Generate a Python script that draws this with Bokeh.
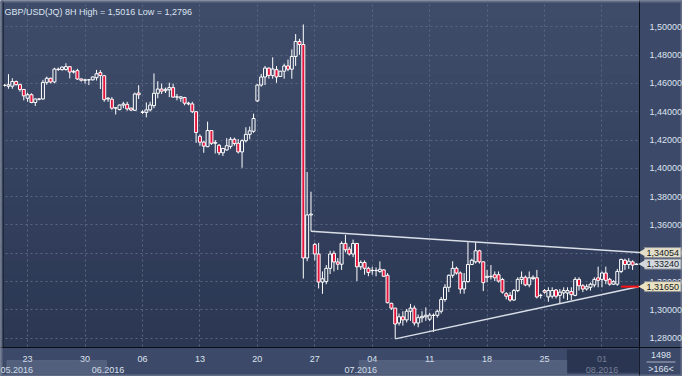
import numpy as np
from bokeh.plotting import figure
from bokeh.models import (Range1d, FixedTicker, CustomJSTickFormatter, LinearAxis,
                          Label, BoxAnnotation)
from bokeh.embed import file_html
from bokeh.resources import INLINE

# ---------------- data (GBP/USD 8H, 166 bars) ----------------
opens = [1.4585, 1.4580, 1.4580, 1.4613, 1.4591, 1.4557, 1.4495, 1.4520, 1.4465, 1.4488,
         1.4490, 1.4607, 1.4636, 1.4610, 1.4700, 1.4697, 1.4698, 1.4718, 1.4680, 1.4690,
         1.4631, 1.4622, 1.4625, 1.4625, 1.4640, 1.4676, 1.4654, 1.4490, 1.4488, 1.4425,
         1.4415, 1.4447, 1.4452, 1.4425, 1.4410, 1.4532, 1.4398, 1.4395, 1.4413, 1.4443,
         1.4530, 1.4560, 1.4548, 1.4555, 1.4570, 1.4503, 1.4495, 1.4500, 1.4460, 1.4455,
         1.4400, 1.4226, 1.4185, 1.4153, 1.4267, 1.4177, 1.4163, 1.4110, 1.4130, 1.4155,
         1.4205, 1.4177, 1.4116, 1.4195, 1.4240, 1.4262, 1.4476, 1.4588, 1.4645, 1.4708,
         1.4656, 1.4697, 1.4649, 1.4686, 1.4723, 1.4700, 1.4790, 1.4896, 1.4874, 1.3367,
         1.3671, 1.3463, 1.3395, 1.3197, 1.3200, 1.3294, 1.3400, 1.3339, 1.3323, 1.3470,
         1.3429, 1.3395, 1.3470, 1.3305, 1.3335, 1.3294, 1.3280, 1.3278, 1.3272, 1.3283,
         1.3245, 1.3047, 1.3013, 1.2908, 1.2952, 1.2930, 1.2991, 1.3013, 1.2908, 1.2945,
         1.2952, 1.2935, 1.2962, 1.2962, 1.2991, 1.3074, 1.3160, 1.3245, 1.3294, 1.3261,
         1.3148, 1.3200, 1.3321, 1.3340, 1.3418, 1.3340, 1.3230, 1.3238, 1.3249, 1.3249,
         1.3215, 1.3115, 1.3103, 1.3070, 1.3137, 1.3216, 1.3231, 1.3177, 1.3222, 1.3227,
         1.3103, 1.3137, 1.3092, 1.3097, 1.3141, 1.3103, 1.3120, 1.3120, 1.3130, 1.3103,
         1.3216, 1.3171, 1.3148, 1.3160, 1.3177, 1.3227, 1.3216, 1.3261, 1.3216, 1.3182,
         1.3182, 1.3272, 1.3351, 1.3321, 1.3340, 1.3321]
highs = [1.4595, 1.4665, 1.4636, 1.4620, 1.4598, 1.4560, 1.4535, 1.4530, 1.4492, 1.4495,
         1.4625, 1.4648, 1.4640, 1.4710, 1.4712, 1.4720, 1.4742, 1.4720, 1.4695, 1.4703,
         1.4635, 1.4633, 1.4630, 1.4650, 1.4695, 1.4693, 1.4660, 1.4503, 1.4503, 1.4430,
         1.4450, 1.4470, 1.4470, 1.4430, 1.4535, 1.4587, 1.4410, 1.4465, 1.4470, 1.4670,
         1.4615, 1.4598, 1.4570, 1.4605, 1.4598, 1.4525, 1.4510, 1.4505, 1.4470, 1.4470,
         1.4402, 1.4240, 1.4195, 1.4330, 1.4270, 1.4200, 1.4172, 1.4145, 1.4213, 1.4220,
         1.4217, 1.4207, 1.4205, 1.4290, 1.4295, 1.4386, 1.4595, 1.4667, 1.4723, 1.4712,
         1.4784, 1.4723, 1.4688, 1.4739, 1.4768, 1.4840, 1.4948, 1.4915, 1.5016, 1.3974,
         1.3835, 1.3474, 1.3474, 1.3272, 1.3317, 1.3418, 1.3418, 1.3366, 1.3485, 1.3530,
         1.3447, 1.3497, 1.3472, 1.3350, 1.3350, 1.3305, 1.3305, 1.3300, 1.3343, 1.3287,
         1.3260, 1.3051, 1.3015, 1.2975, 1.2991, 1.3007, 1.3043, 1.3031, 1.2968, 1.2991,
         1.3018, 1.2980, 1.2975, 1.3002, 1.3092, 1.3182, 1.3250, 1.3344, 1.3306, 1.3272,
         1.3261, 1.3479, 1.3362, 1.3479, 1.3425, 1.3342, 1.3283, 1.3317, 1.3272, 1.3272,
         1.3227, 1.3126, 1.3126, 1.3148, 1.3231, 1.3272, 1.3243, 1.3272, 1.3245, 1.3283,
         1.3115, 1.3148, 1.3160, 1.3160, 1.3148, 1.3148, 1.3160, 1.3160, 1.3160, 1.3231,
         1.3231, 1.3182, 1.3182, 1.3193, 1.3231, 1.3306, 1.3272, 1.3306, 1.3227, 1.3210,
         1.3290, 1.3362, 1.3362, 1.3366, 1.3351, 1.3330]
lows = [1.4578, 1.4562, 1.4562, 1.4585, 1.4541, 1.4480, 1.4470, 1.4460, 1.4440, 1.4480,
        1.4485, 1.4590, 1.4600, 1.4600, 1.4688, 1.4690, 1.4690, 1.4635, 1.4670, 1.4625,
        1.4612, 1.4598, 1.4588, 1.4620, 1.4620, 1.4560, 1.4470, 1.4470, 1.4413, 1.4380,
        1.4410, 1.4425, 1.4407, 1.4405, 1.4405, 1.4490, 1.4385, 1.4360, 1.4402, 1.4425,
        1.4495, 1.4525, 1.4532, 1.4503, 1.4500, 1.4480, 1.4470, 1.4445, 1.4445, 1.4390,
        1.4180, 1.4160, 1.4110, 1.4150, 1.4165, 1.4105, 1.4093, 1.4087, 1.4125, 1.4138,
        1.4160, 1.4105, 1.4004, 1.4183, 1.4205, 1.4251, 1.4469, 1.4577, 1.4588, 1.4633,
        1.4633, 1.4604, 1.4645, 1.4633, 1.4686, 1.4633, 1.4723, 1.4802, 1.3222, 1.3344,
        1.3556, 1.3350, 1.3152, 1.3114, 1.3182, 1.3254, 1.3272, 1.3283, 1.3283, 1.3407,
        1.3384, 1.3373, 1.3204, 1.3283, 1.3249, 1.3238, 1.3249, 1.3238, 1.3262, 1.3234,
        1.3047, 1.3000, 1.2796, 1.2890, 1.2890, 1.2912, 1.2923, 1.2890, 1.2878, 1.2912,
        1.2923, 1.2923, 1.2845, 1.2946, 1.2975, 1.3058, 1.3126, 1.3227, 1.3250, 1.3115,
        1.3115, 1.3193, 1.3317, 1.3328, 1.3328, 1.3133, 1.3195, 1.3215, 1.3204, 1.3193,
        1.3115, 1.3075, 1.3058, 1.3065, 1.3126, 1.3182, 1.3168, 1.3160, 1.3210, 1.3081,
        1.3081, 1.3115, 1.3058, 1.3081, 1.3081, 1.3047, 1.3081, 1.3070, 1.3070, 1.3097,
        1.3137, 1.3126, 1.3137, 1.3137, 1.3160, 1.3160, 1.3160, 1.3182, 1.3171, 1.3177,
        1.3171, 1.3260, 1.3283, 1.3290, 1.3283, 1.3317]
closes = [1.4587, 1.4590, 1.4613, 1.4591, 1.4557, 1.4512, 1.4520, 1.4465, 1.4490, 1.4490,
          1.4607, 1.4636, 1.4610, 1.4701, 1.4698, 1.4715, 1.4718, 1.4680, 1.4685, 1.4631,
          1.4622, 1.4625, 1.4625, 1.4645, 1.4668, 1.4656, 1.4485, 1.4495, 1.4425, 1.4428,
          1.4447, 1.4455, 1.4420, 1.4412, 1.4525, 1.4520, 1.4395, 1.4413, 1.4447, 1.4530,
          1.4560, 1.4545, 1.4558, 1.4570, 1.4503, 1.4505, 1.4505, 1.4460, 1.4455, 1.4400,
          1.4253, 1.4185, 1.4157, 1.4267, 1.4177, 1.4183, 1.4110, 1.4140, 1.4160, 1.4205,
          1.4175, 1.4116, 1.4195, 1.4240, 1.4265, 1.4352, 1.4588, 1.4645, 1.4708, 1.4656,
          1.4701, 1.4645, 1.4686, 1.4723, 1.4700, 1.4790, 1.4896, 1.4874, 1.3367, 1.3671,
          1.3677, 1.3395, 1.3197, 1.3220, 1.3294, 1.3395, 1.3339, 1.3323, 1.3470, 1.3425,
          1.3395, 1.3470, 1.3305, 1.3335, 1.3294, 1.3265, 1.3278, 1.3279, 1.3287, 1.3238,
          1.3051, 1.3013, 1.2901, 1.2952, 1.2930, 1.2991, 1.3013, 1.2908, 1.2946, 1.2955,
          1.2963, 1.2964, 1.2962, 1.2991, 1.3074, 1.3160, 1.3245, 1.3294, 1.3261, 1.3148,
          1.3200, 1.3321, 1.3351, 1.3418, 1.3340, 1.3193, 1.3238, 1.3235, 1.3227, 1.3204,
          1.3126, 1.3097, 1.3070, 1.3137, 1.3216, 1.3231, 1.3177, 1.3227, 1.3231, 1.3092,
          1.3103, 1.3126, 1.3137, 1.3137, 1.3097, 1.3126, 1.3137, 1.3137, 1.3108, 1.3216,
          1.3171, 1.3148, 1.3164, 1.3182, 1.3216, 1.3209, 1.3261, 1.3209, 1.3182, 1.3200,
          1.3272, 1.3357, 1.3321, 1.3344, 1.3317, 1.3324]

week_ticks = [6, 21, 36, 51, 66, 81, 96, 111, 126, 141, 156]
week_labels = ["23", "30", "06", "13", "20", "27", "04", "11", "18", "25", "01"]
month_ticks = [2, 27, 93, 156]
month_labels = ["05.2016", "06.2016", "07.2016", "08.2016"]
price_ticks = [1.28, 1.30, 1.32, 1.34, 1.36, 1.38, 1.40, 1.42, 1.44, 1.46, 1.48, 1.50]

# trend lines and level (bar index, price)
upper_trend_x = [80, 165.8]
upper_trend_y = [1.3556, 1.34054]
lower_trend_x = [102, 165.8]
lower_trend_y = [1.2796, 1.3165]
level_x = [161, 165.8]
level_y = [1.3165, 1.3165]
tag_texts = ["1,34054", "1,33240", "1,31650"]
tag_prices = [1.34054, 1.3324, 1.3165]
tag_colors = ["#e2ddc8", "#d3d7de", "#ebe3c2"]

title = "GBP/USD(JQ) 8H  High = 1,5016 Low = 1,2796"
bars_total = "1498"
bars_shown = ">166<"

# ---------------- layout (pixels, y measured from the bottom) ----------------
W_FIG, H_FIG = 682, 376
CH_L, CH_R, CH_B, CH_T = 3, 639, 29, 373      # chart area inside the canvas
X0, X1 = -0.3, 165.8                          # visible bar range in the chart area
Y0, Y1 = 1.2735, 1.5164                       # visible price range in the chart area
ppx = (CH_R - CH_L) / (X1 - X0)
ppy = (CH_T - CH_B) / (Y1 - Y0)
x_range = Range1d(X0 - CH_L / ppx, X1 + (W_FIG - CH_R) / ppx)
y_range = Range1d(Y0 - CH_B / ppy, Y1 + (H_FIG - CH_T) / ppy)

FONT = "Liberation Sans"
TXT = "#dce3ef"
PANEL = "#3c4968"
EDGE = "#0a0e18"

p = figure(width=W_FIG, height=H_FIG, x_range=x_range, y_range=y_range,
           y_axis_location="right", output_backend="svg", toolbar_location=None,
           min_border=0, min_border_left=0, min_border_right=0, min_border_top=0, min_border_bottom=0,
           background_fill_color="#35425f", border_fill_color=PANEL,
           outline_line_color=None)


def sbox(left, right, bottom, top, **kw):
    return BoxAnnotation(left=left, right=right, bottom=bottom, top=top,
                         left_units="screen", right_units="screen",
                         bottom_units="screen", top_units="screen", **kw)


# vertical gradient of the chart area
NB = 24
c_top = np.array([63, 77, 107])
c_bot = np.array([43, 55, 83])
for i in range(NB):
    t = (i + 0.5) / NB
    col = c_bot + (c_top - c_bot) * t
    b = CH_B + (CH_T - CH_B) * i / NB
    tp = CH_B + (CH_T - CH_B) * (i + 1) / NB + 1
    p.add_layout(sbox(0, W_FIG, b, tp, fill_color="#%02x%02x%02x" % tuple(int(v) for v in col),
                      fill_alpha=1, line_alpha=0, level="image"))

# grid
p.xgrid.ticker = FixedTicker(ticks=week_ticks)
p.ygrid.ticker = FixedTicker(ticks=price_ticks)
for g in (p.xgrid[0], p.ygrid[0]):
    g.grid_line_color = "#5a6783"
    g.grid_line_dash = "2 3"
    g.grid_line_width = 1

# axis panels (cover grid outside the chart area)
p.add_layout(sbox(CH_R, W_FIG, 0, H_FIG, fill_color=PANEL, fill_alpha=1, line_alpha=0, level="underlay"))
p.add_layout(sbox(0, W_FIG, 0, CH_B, fill_color=PANEL, fill_alpha=1, line_alpha=0, level="underlay"))
p.add_layout(sbox(0, CH_L, 0, H_FIG, fill_color=PANEL, fill_alpha=1, line_alpha=0, level="underlay"))
p.add_layout(sbox(0, W_FIG, CH_T, H_FIG, fill_color=PANEL, fill_alpha=1, line_alpha=0, level="underlay"))

# axes (drawn at the edges of the chart area)
xa = p.xaxis[0]
xa.ticker = FixedTicker(ticks=week_ticks)
xa.major_label_overrides = dict(zip(week_ticks, week_labels))
xa.fixed_location = Y0
ya = p.yaxis[0]
ya.ticker = FixedTicker(ticks=price_ticks)
ya.formatter = CustomJSTickFormatter(code="return tick.toFixed(5).replace('.', ',');")
ya.fixed_location = X1
for ax in (xa, ya):
    ax.major_tick_line_color = None
    ax.minor_tick_line_color = None
    ax.axis_line_color = EDGE
    ax.major_label_text_color = TXT
    ax.major_label_text_font = FONT
    ax.major_label_text_font_size = "9px"
xa.major_label_standoff = 2
ya.major_label_standoff = 4

month_axis = LinearAxis(ticker=FixedTicker(ticks=month_ticks),
                        major_label_overrides=dict(zip(month_ticks, month_labels)),
                        fixed_location=Y0)
month_axis.axis_line_color = None
month_axis.major_tick_line_color = None
month_axis.minor_tick_line_color = None
month_axis.major_label_text_align = "left"
month_axis.major_label_text_color = TXT
month_axis.major_label_text_font = FONT
month_axis.major_label_text_font_size = "9px"
month_axis.major_label_standoff = 13
p.add_layout(month_axis, "below")

# month boxes (light tint over the time axis)
for bl, br in ((0.6, 26.6), (92.6, 146.9)):
    p.add_layout(BoxAnnotation(left=bl, right=br, bottom=CH_B - 26, top=CH_B - 13,
                               bottom_units="screen", top_units="screen",
                               fill_color="#a4b0cc", fill_alpha=0.22,
                               line_color="#7884a0", line_width=1))

# candles
o = np.array(opens); c = np.array(closes); h = np.array(highs); l = np.array(lows)
idx = np.arange(len(o))
top = np.maximum(o, c)
bot = np.minimum(o, c)
up = c >= o
p.segment(idx, top, idx, h, line_color="white", line_width=1)
p.segment(idx, l, idx, bot, line_color="white", line_width=1)
p.vbar(x=idx[up], width=0.78, top=top[up], bottom=bot[up], fill_alpha=0,
       line_color="white", line_width=1)
p.vbar(x=idx[~up], width=0.78, top=top[~up], bottom=bot[~up], fill_color="#e5143c",
       line_color="white", line_width=1)

# trend lines
p.line(upper_trend_x, upper_trend_y, line_color="#d9dee7", line_width=1.5)
p.line(lower_trend_x, lower_trend_y, line_color="#d9dee7", line_width=1.5)
p.line(level_x, level_y, line_color="#ff1010", line_width=2)

# header
p.add_layout(Label(x=CH_L + 1, y=CH_T - 8, x_units="screen", y_units="screen", text=title,
                   text_font=FONT, text_font_size="9px", text_color=TXT,
                   text_baseline="middle"))

# darker overlay at the end of the time axis
p.add_layout(BoxAnnotation(left=146.9, right=X1, bottom=CH_B - 25, top=CH_B - 2,
                           bottom_units="screen", top_units="screen",
                           fill_color="#1c2540", fill_alpha=0.55, line_color="#2a3550", line_width=1))

# price tags with a small arrow towards the axis
p.scatter(x=[X1 + 3.5 / ppx] * len(tag_prices), y=tag_prices, marker="triangle",
          angle=np.pi / 2, size=8, fill_color=tag_colors, line_color=None, level="overlay")
for txt, yv, col in zip(tag_texts, tag_prices, tag_colors):
    p.add_layout(Label(x=CH_R + 5, y=yv, x_units="screen", y_units="data", text=txt,
                       text_font=FONT, text_font_size="9px", text_color="#151a24",
                       text_baseline="middle", background_fill_color=col,
                       border_line_color="#8b8f96", padding=2))

# corner counters
p.add_layout(sbox(CH_R + 7, CH_R + 36, CH_B - 15, CH_B - 14,
                  fill_color="#aab3c4", fill_alpha=1, line_alpha=0))
p.add_layout(Label(x=(CH_R + W_FIG) / 2, y=CH_B - 7, x_units="screen", y_units="screen",
                   text=bars_total, text_font=FONT, text_font_size="9px", text_color=TXT,
                   text_align="center", text_baseline="middle"))
p.add_layout(Label(x=(CH_R + W_FIG) / 2, y=CH_B - 21, x_units="screen", y_units="screen",
                   text=bars_shown, text_font=FONT, text_font_size="9px", text_color=TXT,
                   text_align="center", text_baseline="middle"))

# chart-area left edge and outer light frame
p.add_layout(sbox(CH_L - 1, CH_L, CH_B, H_FIG - 1, fill_color=EDGE, fill_alpha=1, line_alpha=0))
p.add_layout(sbox(1, W_FIG - 1, 1, H_FIG - 1, fill_alpha=0, line_color="#b9c1cd", line_width=2))

open("out.html", "w").write(file_html(p, INLINE))
